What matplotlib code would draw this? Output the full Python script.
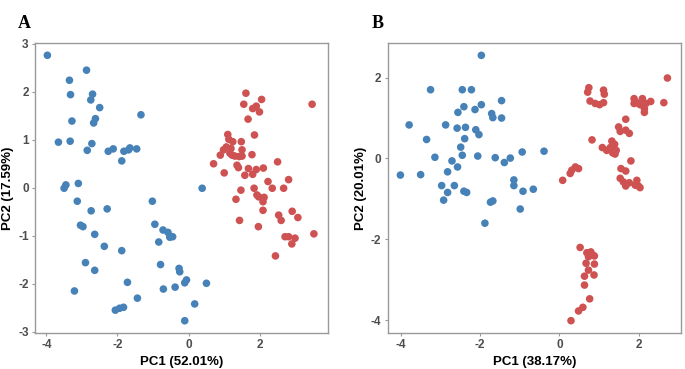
import matplotlib
matplotlib.use("Agg")
import matplotlib.pyplot as plt

# -----------------------------
# Dane
# -----------------------------
# Panel A - grupa niebieska
a_blue_x = [-3.97, -2.87, -3.35, -3.32, -2.70, -2.75, -2.50, -3.28, -2.62, -2.67,
            -1.34, -3.66, -3.33, -2.72, -2.85, -2.26, -2.12, -1.82, -1.69, -1.65,
            -1.46, -1.88, -3.10, -3.45, -3.50, -3.13, -2.74, -2.29, -3.04, -2.97,
            -2.64, -2.37, -1.88, -2.90, -2.64, -1.72, -3.21, -2.06, -1.94, -1.83,
            -1.44, -1.02, -0.95, -0.72, -0.58, -0.53, -0.45, -0.84, -0.79, -0.71,
            -0.38, -0.27, -0.25, -0.11, -0.06, 0.17, 0.50, -0.11, 0.38]
a_blue_y = [2.76, 2.45, 2.24, 1.94, 1.95, 1.83, 1.67, 1.39, 1.44, 1.35,
            1.52, 0.95, 0.97, 0.92, 0.78, 0.76, 0.81, 0.76, 0.79, 0.83,
            0.81, 0.56, 0.09, 0.06, -0.01, -0.28, -0.48, -0.44, -0.78, -0.81,
            -0.97, -1.22, -1.31, -1.56, -1.72, -1.97, -2.15, -2.55, -2.51, -2.49,
            -2.30, -0.28, -0.76, -0.88, -0.93, -1.03, -1.02, -1.13, -1.60, -2.11,
            -2.07, -1.68, -1.75, -1.98, -1.92, -2.42, -1.99, -2.77, -0.01]

# Panel A - grupa czerwona
a_red_x = [1.61, 2.05, 1.55, 1.90, 1.80, 1.99, 1.67, 3.47, 1.85, 1.10,
           1.13, 1.24, 1.48, 1.06, 1.19, 1.50, 0.98, 0.89, 1.30, 1.42,
           1.50, 1.78, 0.70, 1.36, 1.40, 1.68, 1.90, 2.10, 2.50, 1.00,
           1.58, 1.80, 2.23, 2.81, 2.35, 2.67, 1.47, 1.84, 1.92, 1.97,
           2.12, 2.09, 1.33, 2.09, 2.53, 2.60, 2.91, 3.07, 1.43, 1.96,
           3.52, 2.71, 2.81, 2.99, 2.90, 2.44, 1.16, 1.22]
a_red_y = [1.97, 1.84, 1.74, 1.70, 1.65, 1.58, 1.43, 1.74, 1.10, 1.11,
           1.01, 0.96, 0.96, 0.85, 0.82, 0.79, 0.79, 0.68, 0.66, 0.65,
           0.66, 0.69, 0.50, 0.47, 0.42, 0.40, 0.38, 0.41, 0.54, 0.31,
           0.26, 0.28, 0.13, 0.17, -0.01, -0.01, -0.05, -0.01, -0.15, -0.19,
           -0.20, -0.29, -0.24, -0.47, -0.57, -0.68, -0.49, -0.62, -0.68, -0.81,
           -0.96, -1.02, -1.02, -1.05, -1.17, -1.42, 0.72, 0.68]

# Panel B - grupa niebieska
b_blue_x = [-1.97, -3.25, -2.45, -2.22, -1.46, -1.97, -2.41, -2.13, -2.56, -1.71,
            -1.68, -1.46, -3.79, -2.87, -2.58, -2.37, -2.11, -2.03, -3.35, -2.39,
            -2.49, -2.45, -2.06, -3.14, -2.71, -1.62, -1.24, -1.39, -0.94, -0.39,
            -4.01, -3.50, -2.82, -2.57, -2.97, -2.65, -2.82, -2.41, -2.34, -2.92,
            -1.74, -1.68, -1.15, -1.15, -0.92, -0.66, -0.99, -1.88]
b_blue_y = [2.55, 1.70, 1.70, 1.70, 1.43, 1.33, 1.28, 1.21, 1.14, 1.11,
            1.01, 1.00, 0.83, 0.83, 0.75, 0.77, 0.71, 0.59, 0.47, 0.49,
            0.28, 0.08, 0.06, 0.03, -0.06, 0.02, 0.01, -0.10, 0.16, 0.18,
            -0.41, -0.40, -0.33, -0.21, -0.67, -0.67, -0.84, -0.81, -0.84, -1.03,
            -1.08, -1.05, -0.53, -0.67, -0.81, -0.76, -1.25, -1.60]

# Panel B - grupa czerwona
b_red_x = [2.72, 0.74, 0.71, 1.11, 1.13, 0.77, 0.90, 1.01, 1.11, 1.88,
           2.09, 2.30, 1.95, 2.18, 2.03, 2.14, 2.14, 1.88, 2.63, 1.67,
           1.49, 1.53, 1.67, 1.76, 0.82, 1.32, 1.39, 1.28, 1.08, 1.43,
           1.34, 1.19, 1.40, 1.80, 0.40, 0.48, 0.31, 0.27, 0.08, 1.55,
           1.67, 1.53, 1.61, 1.67, 1.76, 1.95, 1.99, 1.91, 2.03,
           0.52, 0.69, 0.79, 0.84, 0.73, 0.88, 0.67, 0.88, 0.73, 0.63,
           0.87, 0.63, 0.76, 0.59, 0.48, 0.29]
b_red_y = [1.99, 1.75, 1.64, 1.69, 1.59, 1.42, 1.36, 1.33, 1.38, 1.48,
           1.48, 1.41, 1.38, 1.36, 1.33, 1.23, 1.14, 1.36, 1.38, 0.97,
           0.78, 0.67, 0.70, 0.62, 0.46, 0.43, 0.35, 0.27, 0.27, 0.20,
           0.14, 0.20, 0.11, -0.06, -0.21, -0.25, -0.29, -0.37, -0.54, -0.25,
           -0.31, -0.49, -0.58, -0.68, -0.60, -0.54, -0.68, -0.66, -0.72,
           -2.20, -2.33, -2.31, -2.39, -2.43, -2.41, -2.59, -2.61, -2.76, -2.91,
           -2.88, -3.13, -3.47, -3.68, -3.77, -4.01]

# -----------------------------
# Rysowanie
# -----------------------------
blue = "#4682b8"
red = "#cf5252"
frame = "#999999"
tick_col = "#4d4d4d"

plt.rcParams['font.family'] = ['Liberation Sans', 'DejaVu Sans']

fig = plt.figure(figsize=(6.85, 3.69), dpi=100)
ax_a = fig.add_axes([0.051, 0.097, 0.428, 0.787])
ax_b = fig.add_axes([0.566, 0.097, 0.428, 0.787])

panels = [
    (ax_a, a_blue_x, a_blue_y, a_red_x, a_red_y, "PC1 (52.01%)", "PC2 (17.59%)",
     (-4.32, 3.92), (-3.03, 3.02), [-4, -2, 0, 2], [-3, -2, -1, 0, 1, 2, 3]),
    (ax_b, b_blue_x, b_blue_y, b_red_x, b_red_y, "PC1 (38.17%)", "PC2 (20.01%)",
     (-4.33, 3.06), (-4.32, 2.86), [-4, -2, 0, 2], [-4, -2, 0, 2]),
]

for ax, bx, by, rx, ry, xl, yl, xlim, ylim, xt, yt in panels:
    ax.scatter(bx, by, s=30, color=blue, edgecolors="none", zorder=3)
    ax.scatter(rx, ry, s=30, color=red, edgecolors="none", zorder=3)
    ax.set_xlim(*xlim)
    ax.set_ylim(*ylim)
    ax.set_xticks(xt)
    ax.set_yticks(yt)
    ax.set_xticklabels([str(v) for v in xt])
    ax.set_yticklabels([str(v) for v in yt])
    ax.tick_params(length=2.5, width=0.8, color=frame, labelcolor=tick_col,
                   labelsize=8.5, pad=2)
    for lab in ax.get_xticklabels() + ax.get_yticklabels():
        lab.set_fontweight("bold")
    for sp in ax.spines.values():
        sp.set_color(frame)
        sp.set_linewidth(1.0)
    ax.set_xlabel(xl, fontsize=9.5, fontweight="bold", labelpad=3)
    ax.set_ylabel(yl, fontsize=9.5, fontweight="bold", labelpad=3)

fig.text(0.026, 0.96, "A", fontsize=13, fontweight="bold",
         family="Liberation Serif", va="top")
fig.text(0.543, 0.96, "B", fontsize=13, fontweight="bold",
         family="Liberation Serif", va="top")

fig.savefig("out.png", dpi=100)
